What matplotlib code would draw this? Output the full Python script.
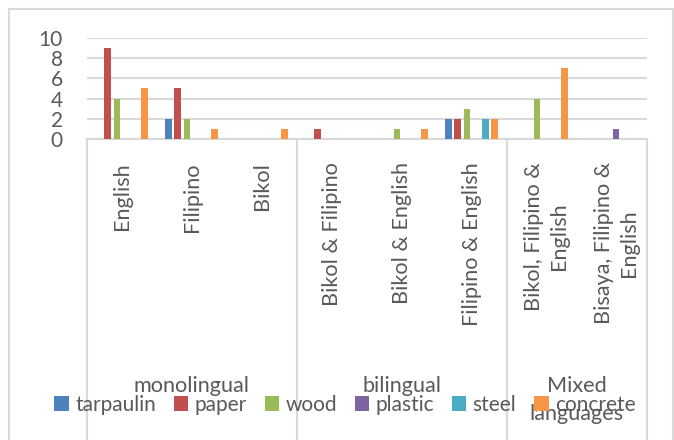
import matplotlib
matplotlib.use("Agg")
import matplotlib.pyplot as plt
import matplotlib.transforms as mtransforms
import numpy as np

plt.rcParams['font.family'] = ['Lato', 'DejaVu Sans']

categories = ["English", "Filipino", "Bikol",
              "Bikol & Filipino", "Bikol & English", "Filipino & English",
              "Bikol, Filipino &\nEnglish", "Bisaya, Filipino &\nEnglish"]
groups = ["monolingual", "bilingual", "Mixed"]
group_sizes = [3, 3, 2]
series = ["tarpaulin", "paper", "wood", "plastic", "steel", "concrete"]
tarpaulin = [0, 2, 0, 0, 0, 2, 0, 0]
paper     = [9, 5, 0, 1, 0, 2, 0, 0]
wood      = [4, 2, 0, 0, 1, 3, 4, 0]
plastic   = [0, 0, 0, 0, 0, 0, 0, 1]
steel     = [0, 0, 0, 0, 0, 2, 0, 0]
concrete  = [5, 1, 1, 0, 1, 2, 7, 0]
values = [tarpaulin, paper, wood, plastic, steel, concrete]
colors = ["#4F81BD", "#C0504D", "#9BBB59", "#8064A2", "#4BACC6", "#F79646"]
yticks = [0, 2, 4, 6, 8, 10]

FS = 15
FSC = 15.6
W, H = 674, 440
fig = plt.figure(figsize=(W / 100, H / 100), dpi=100)

# chart frame
frame = plt.Rectangle((8.5 / W, -0.1), (672.5 - 8.5) / W, 1.1 - 9 / H,
                      transform=fig.transFigure, fill=False,
                      edgecolor="#d9d9d9", linewidth=1.5)
fig.patches.append(frame)

x0, x1 = 86.5, 646.5
y0, y1 = 139, 38
ax = fig.add_axes([x0 / W, 1 - y0 / H, (x1 - x0) / W, (y0 - y1) / H])

x = np.arange(len(categories))
slot = 0.131
bw = 0.095
for i, (name, vals, c) in enumerate(zip(series, values, colors)):
    ax.bar(x + (i - 2.5) * slot, vals, width=bw, color=c, label=name,
           edgecolor="none", zorder=3)

ax.set_xlim(-0.5, len(categories) - 0.5)
ax.set_ylim(0, 10)
ax.set_yticks(yticks)
ax.set_yticklabels([str(v) for v in yticks])
ax.yaxis.grid(True, color="#d9d9d9", linewidth=1.5)
ax.set_axisbelow(True)
for s in ["top", "right", "left"]:
    ax.spines[s].set_visible(False)
ax.spines["bottom"].set_color("#d9d9d9")
ax.spines["bottom"].set_linewidth(1.5)
ax.tick_params(axis="y", length=0, labelsize=FS, labelcolor="#595959", pad=17)
ax.set_xticks([])

trans = mtransforms.blended_transform_factory(ax.transData, ax.transAxes)
px = 1.0 / (y0 - y1)  # axes fraction per pixel

# group separators
bounds = np.concatenate([[0], np.cumsum(group_sizes)]) - 0.5
for b in bounds:
    ax.plot([b, b], [0, -3.2], transform=trans, color="#d9d9d9",
            linewidth=1.5, clip_on=False)

# category labels
for xi, lab in zip(x, categories):
    dx = 0.07 if "\n" in lab else 0.0
    ax.text(xi + dx, -(162 - y0) * px, lab, rotation=90, ha="center", va="top",
            multialignment="center", fontsize=FSC, color="#595959",
            transform=trans, linespacing=1.3)

# group labels
starts = np.cumsum([0] + group_sizes[:-1])
for g, s, n in zip(groups, starts, group_sizes):
    cx = s + (n - 1) / 2
    ax.text(cx, -(392 - y0) * px, g, ha="center", va="baseline",
            fontsize=FSC, color="#595959", transform=trans)
ax.text(starts[2] + 0.5, -(420 - y0) * px, "languages", ha="center",
        va="baseline", fontsize=FSC, color="#595959", transform=trans)

leg = fig.legend(loc="center", bbox_to_anchor=(345 / W, 1 - 405 / H), ncol=6,
                 frameon=False, fontsize=FS, handlelength=0.7, handleheight=0.7,
                 handletextpad=0.3, columnspacing=0.85, labelcolor="#595959",
                 borderpad=0, borderaxespad=0)

fig.savefig("out.png", dpi=100)
